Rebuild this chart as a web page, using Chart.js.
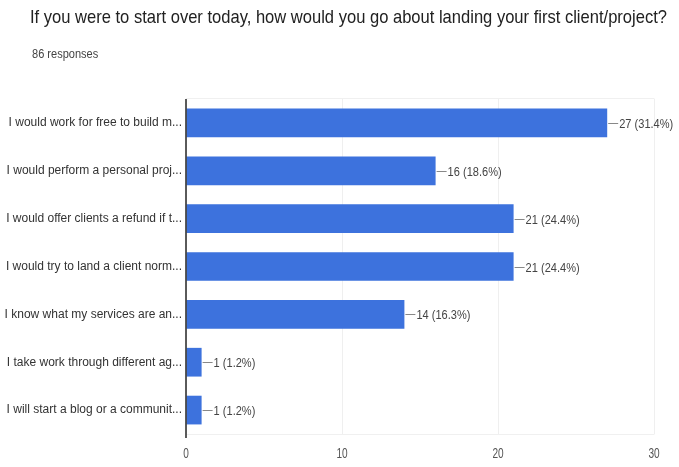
<!DOCTYPE html>
<html>
<head>
<meta charset="utf-8">
<script src="https://cdn.jsdelivr.net/npm/chart.js@4/dist/chart.umd.min.js"></script>
<style>
  html, body { margin: 0; padding: 0; background: #fff; }
  #wrap { width: 679px; height: 467px; position: relative; }
</style>
</head>
<body>
<div id="wrap"><canvas id="c" width="679" height="467"></canvas></div>
<script>
// Survey question and answers
const questionTitle = 'If you were to start over today, how would you go about landing your first client/project?';
const responseNote = '86 responses';

const answers = [
  'I would work for free to build m...',
  'I would perform a personal proj...',
  'I would offer clients a refund if t...',
  'I would try to land a client norm...',
  'I know what my services are an...',
  'I take work through different ag...',
  'I will start a blog or a communit...'
];
const counts = [27, 16, 21, 21, 14, 1, 1];
const percents = [31.4, 18.6, 24.4, 24.4, 16.3, 1.2, 1.2];
const xTicks = [0, 10, 20, 30];

const FONT = 'Arial, "Liberation Sans", Roboto, sans-serif';

// Draw text squeezed horizontally (narrow face look)
function narrowText(ctx, text, x, y, size, squeeze, color, align) {
  ctx.save();
  ctx.font = size + 'px ' + FONT;
  ctx.fillStyle = color;
  ctx.textBaseline = 'middle';
  ctx.textAlign = align || 'left';
  ctx.translate(x, y);
  ctx.scale(squeeze, 1);
  ctx.fillText(text, 0, 0);
  ctx.restore();
}

// Heading, response count and x tick numbers
const textPlugin = {
  id: 'texts',
  afterDraw(chart) {
    const ctx = chart.ctx;
    ctx.save();
    ctx.font = '19px ' + FONT;
    const w = ctx.measureText(questionTitle).width;
    ctx.restore();
    narrowText(ctx, questionTitle, 30, 18, 19, 637 / w, '#212121');
    narrowText(ctx, responseNote, 32, 55, 12, 0.92, '#444');

    const xs = chart.scales.x;
    xTicks.forEach(v => {
      narrowText(ctx, String(v), xs.getPixelForValue(v), 454, 14, 0.72, '#555', 'center');
    });
  }
};

// Value labels with a short leader line after each bar
const valueLabelPlugin = {
  id: 'valueLabels',
  afterDatasetsDraw(chart) {
    const ctx = chart.ctx;
    const meta = chart.getDatasetMeta(0);
    const area = chart.chartArea;
    // faint frame around the plot
    ctx.save();
    ctx.strokeStyle = '#f0f0f0';
    ctx.lineWidth = 1;
    ctx.beginPath();
    ctx.moveTo(area.left, Math.round(area.top) - 0.5);
    ctx.lineTo(area.right + 0.5, Math.round(area.top) - 0.5);
    ctx.moveTo(area.left, Math.round(area.bottom) + 0.5);
    ctx.lineTo(area.right + 0.5, Math.round(area.bottom) + 0.5);
    ctx.stroke();
    // y axis line, running a little past the bottom
    ctx.strokeStyle = '#333';
    ctx.lineWidth = 1.6;
    ctx.beginPath();
    ctx.moveTo(area.left, area.top);
    ctx.lineTo(area.left, area.bottom + 4);
    ctx.stroke();
    ctx.restore();

    meta.data.forEach((bar, i) => {
      const x = bar.x, y = Math.round(bar.y);
      ctx.save();
      ctx.strokeStyle = '#888';
      ctx.lineWidth = 1;
      ctx.beginPath();
      ctx.moveTo(x + 1, y + 0.5);
      ctx.lineTo(x + 11, y + 0.5);
      ctx.stroke();
      ctx.restore();
      narrowText(ctx, counts[i] + ' (' + percents[i].toFixed(1) + '%)', x + 12, y + 1, 13, 0.85, '#444');
    });
  }
};

new Chart(document.getElementById('c'), {
  type: 'bar',
  data: {
    labels: answers,
    datasets: [{
      data: counts,
      backgroundColor: '#3d72dd',
      borderWidth: 0,
      barPercentage: 1,
      categoryPercentage: 0.6
    }]
  },
  options: {
    indexAxis: 'y',
    responsive: false,
    animation: false,
    devicePixelRatio: 1,
    layout: { padding: { top: 99, right: 25, left: 0, bottom: 0 } },
    plugins: {
      legend: { display: false },
      tooltip: { enabled: false }
    },
    scales: {
      x: {
        min: 0,
        max: 30,
        afterBuildTicks(scale) { scale.ticks = xTicks.map(v => ({ value: v })); },
        afterFit(scale) { scale.height = 33; },
        grid: { color: '#efefef', drawTicks: false },
        border: { display: false },
        ticks: { display: false }
      },
      y: {
        afterFit(scale) { scale.width = 186; },
        grid: { display: false, drawTicks: false },
        border: { display: false },
        ticks: { color: '#333', font: { size: 12, family: FONT }, padding: 4 }
      }
    }
  },
  plugins: [textPlugin, valueLabelPlugin]
});
</script>
</body>
</html>
